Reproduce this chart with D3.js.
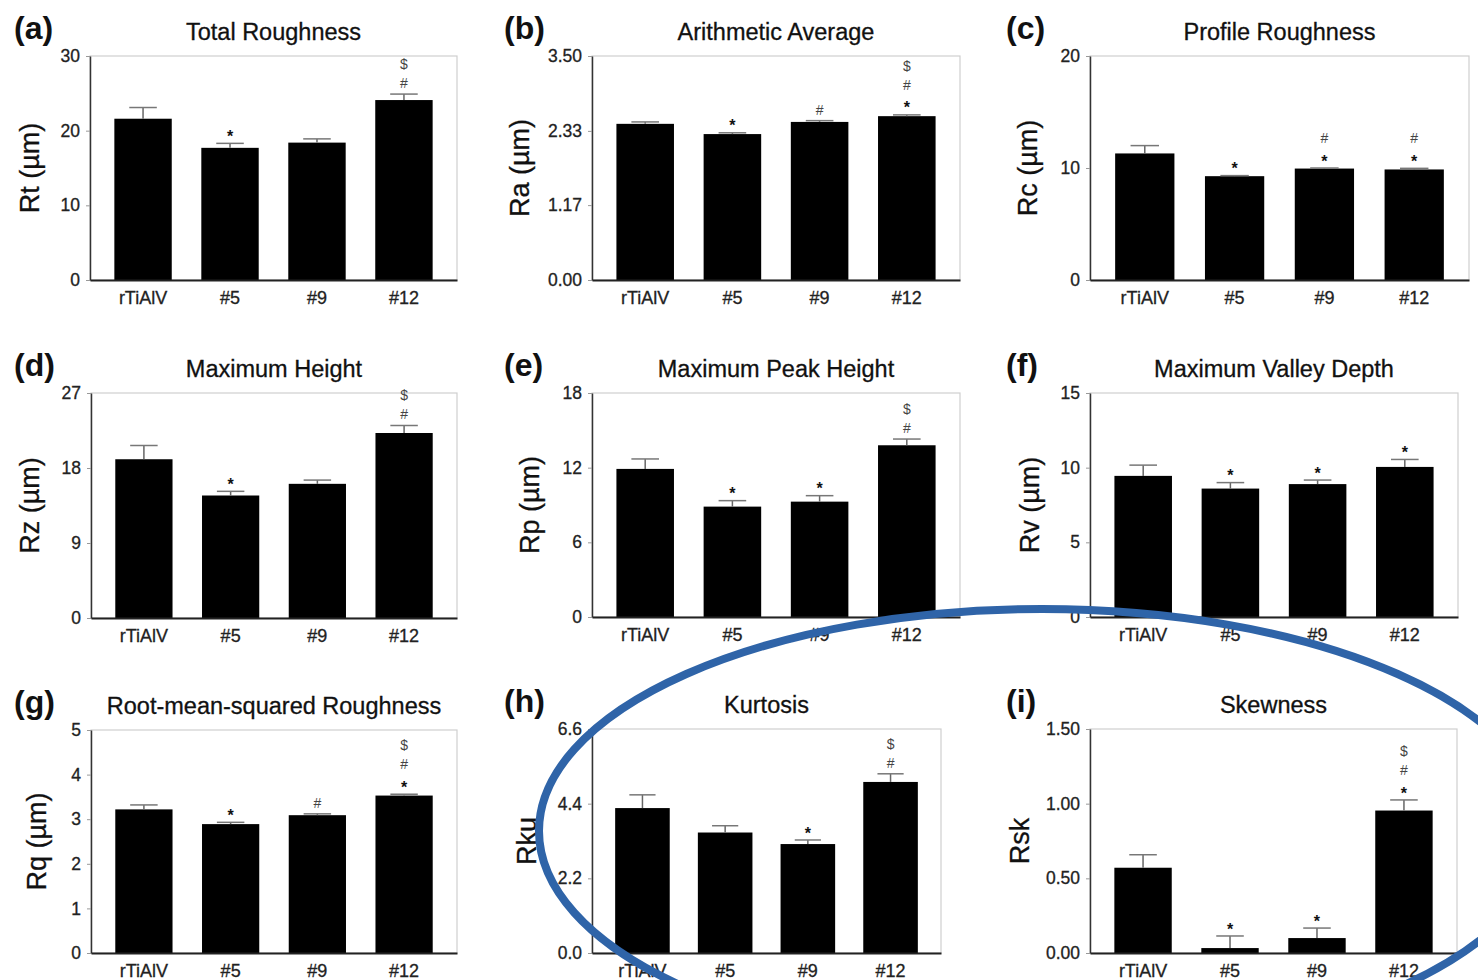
<!DOCTYPE html>
<html>
<head>
<meta charset="utf-8">
<script src="https://cdn.jsdelivr.net/npm/d3@7"></script>
<style>
  body { margin: 0; background: #fff; }
  text { font-family: "Liberation Sans", Arial, sans-serif; }
</style>
</head>
<body>
<div id="chart-area"></div>
<script>
// categorias comunes a todos los paneles
var categories = ["rTiAlV", "#5", "#9", "#12"];

// (a) Total Roughness
var rtMean = [21.6, 17.7, 18.4, 24.1];
var rtErr = [1.5, 0.6, 0.5, 0.8];
var rtSig = [[], ["*"], [], ["#", "$"]];
var rtTicks = ["0", "10", "20", "30"];

// (b) Arithmetic Average
var raMean = [2.44, 2.28, 2.47, 2.56];
var raErr = [0.03, 0.02, 0.02, 0.02];
var raSig = [[], ["*"], ["#"], ["*", "#", "$"]];
var raTicks = ["0.00", "1.17", "2.33", "3.50"];

// (c) Profile Roughness
var rcMean = [11.3, 9.27, 9.95, 9.87];
var rcErr = [0.7, 0.05, 0.05, 0.1];
var rcSig = [[], ["*"], ["*", "#"], ["*", "#"]];
var rcTicks = ["0", "10", "20"];

// (d) Maximum Height
var rzMean = [19.05, 14.7, 16.1, 22.2];
var rzErr = [1.65, 0.5, 0.45, 0.9];
var rzSig = [[], ["*"], [], ["#", "$"]];
var rzTicks = ["0", "9", "18", "27"];

// (e) Maximum Peak Height
var rpMean = [11.9, 8.87, 9.27, 13.8];
var rpErr = [0.8, 0.48, 0.48, 0.5];
var rpSig = [[], ["*"], ["*"], ["#", "$"]];
var rpTicks = ["0", "6", "12", "18"];

// (f) Maximum Valley Depth
var rvMean = [9.45, 8.6, 8.9, 10.05];
var rvErr = [0.72, 0.4, 0.27, 0.5];
var rvSig = [[], ["*"], ["*"], ["*"]];
var rvTicks = ["0", "5", "10", "15"];

// (g) Root-mean-squared Roughness
var rqMean = [3.22, 2.89, 3.09, 3.53];
var rqErr = [0.1, 0.04, 0.03, 0.03];
var rqSig = [[], ["*"], ["#"], ["*", "#", "$"]];
var rqTicks = ["0", "1", "2", "3", "4", "5"];

// (h) Kurtosis
var rkuMean = [4.27, 3.55, 3.21, 5.04];
var rkuErr = [0.39, 0.2, 0.12, 0.24];
var rkuSig = [[], [], ["*"], ["#", "$"]];
var rkuTicks = ["0.0", "2.2", "4.4", "6.6"];

// (i) Skewness
var rskMean = [0.571, 0.033, 0.10, 0.954];
var rskErr = [0.087, 0.081, 0.067, 0.071];
var rskSig = [[], ["*"], ["*"], ["*", "#", "$"]];
var rskTicks = ["0.00", "0.50", "1.00", "1.50"];

var svg = d3.select("#chart-area").append("svg")
    .attr("width", 1478)
    .attr("height", 980)
    .style("background-color", "#fff");

// dibuja un panel de barras con barras de error y marcas de significancia
function drawPanel(p, means, errs, sigs, ticks) {
    var g = svg.append("g");
    var yMax = +ticks[ticks.length - 1];

    var x = d3.scaleBand()
        .domain(categories)
        .range([p.x0, p.x1])
        .paddingInner(0.34)
        .paddingOuter(0.28);

    var y = d3.scaleLinear()
        .domain([0, yMax])
        .range([p.bottom, p.top]);

    // marco gris claro
    g.append("rect")
        .attr("x", p.x0)
        .attr("y", p.top)
        .attr("width", p.x1 - p.x0)
        .attr("height", p.bottom - p.top)
        .attr("fill", "none")
        .attr("stroke", "#cfcfcf")
        .attr("stroke-width", 1.2);

    // barras
    g.selectAll(".bar")
        .data(means)
        .enter().append("rect")
        .attr("x", function(d, i) { return x(categories[i]); })
        .attr("y", function(d) { return y(d); })
        .attr("width", x.bandwidth())
        .attr("height", function(d) { return y(0) - y(d); })
        .attr("fill", "#000");

    // barras de error (solo la mitad superior)
    means.forEach(function(m, i) {
        var cx = x(categories[i]) + x.bandwidth() / 2;
        var top = y(m + errs[i]);
        var capW = x.bandwidth() * 0.24;
        g.append("line")
            .attr("x1", cx).attr("x2", cx)
            .attr("y1", y(m)).attr("y2", top)
            .attr("stroke", "#666")
            .attr("stroke-width", 1.5);
        g.append("line")
            .attr("x1", cx - capW).attr("x2", cx + capW)
            .attr("y1", top).attr("y2", top)
            .attr("stroke", "#777")
            .attr("stroke-width", 1.5);

        // simbolos apilados encima
        sigs[i].forEach(function(s, k) {
            var cy = top - 11 - k * 19;
            var fs = s === "*" ? 16 : 14;
            var off = s === "*" ? 0.6 * fs : 0.35 * fs;
            g.append("text")
                .attr("x", cx)
                .attr("y", cy + off)
                .attr("text-anchor", "middle")
                .attr("font-size", fs)
                .attr("font-weight", s === "*" ? "bold" : "normal")
                .attr("fill", s === "*" ? "#111" : "#444")
                .text(s);
        });
    });

    // eje Y
    var yAxis = g.append("g")
        .attr("transform", "translate(" + p.x0 + ",0)")
        .call(d3.axisLeft(y)
            .tickValues(ticks.map(Number))
            .tickFormat(function(d, i) { return ticks[i]; })
            .tickSize(4)
            .tickSizeOuter(0)
            .tickPadding(6));
    yAxis.select(".domain").attr("stroke", "#333").attr("stroke-width", 1.5);
    yAxis.selectAll(".tick line").attr("stroke", "#999");
    yAxis.selectAll("text")
        .attr("font-size", 17.5)
        .attr("fill", "#222")
        .attr("stroke", "#222")
        .attr("stroke-width", 0.3)
        .style("font-family", "'Liberation Sans', Arial, sans-serif");

    // eje X
    var xAxis = g.append("g")
        .attr("transform", "translate(0," + p.bottom + ")")
        .call(d3.axisBottom(x).tickSize(0).tickPadding(11));
    xAxis.select(".domain").attr("stroke", "#222").attr("stroke-width", 2);
    xAxis.selectAll("text")
        .attr("font-size", 18)
        .attr("fill", "#222")
        .attr("stroke", "#222")
        .attr("stroke-width", 0.3)
        .style("font-family", "'Liberation Sans', Arial, sans-serif");

    // titulo del panel
    g.append("text")
        .attr("x", (p.x0 + p.x1) / 2)
        .attr("y", p.top - 24 + 8)
        .attr("text-anchor", "middle")
        .attr("font-size", 23.5)
        .attr("fill", "#111")
        .attr("stroke", "#111")
        .attr("stroke-width", 0.3)
        .text(p.title);

    // letra del panel
    g.append("text")
        .attr("x", p.lx)
        .attr("y", p.top - 28 + 11)
        .attr("font-size", 32)
        .attr("font-weight", "bold")
        .attr("fill", "#111")
        .text(p.letter);

    // etiqueta del eje Y
    var ly = (p.top + p.bottom) / 2;
    var lxx = p.x0 - p.yoff;
    g.append("text")
        .attr("transform", "translate(" + lxx + "," + ly + ") rotate(-90)")
        .attr("text-anchor", "middle")
        .attr("dy", "0.35em")
        .attr("font-size", 27)
        .attr("fill", "#111")
        .attr("stroke", "#111")
        .attr("stroke-width", 0.3)
        .text(p.ylabel);
}

drawPanel({ letter: "(a)", title: "Total Roughness", ylabel: "Rt (\u00b5m)", x0: 90, x1: 457, top: 56, bottom: 280, lx: 14, yoff: 60 },
    rtMean, rtErr, rtSig, rtTicks);
drawPanel({ letter: "(b)", title: "Arithmetic Average", ylabel: "Ra (\u00b5m)", x0: 592, x1: 960, top: 56, bottom: 280, lx: 504, yoff: 72 },
    raMean, raErr, raSig, raTicks);
drawPanel({ letter: "(c)", title: "Profile Roughness", ylabel: "Rc (\u00b5m)", x0: 1090, x1: 1469, top: 56, bottom: 280, lx: 1006, yoff: 62 },
    rcMean, rcErr, rcSig, rcTicks);
drawPanel({ letter: "(d)", title: "Maximum Height", ylabel: "Rz (\u00b5m)", x0: 91, x1: 457, top: 393, bottom: 618, lx: 14, yoff: 61 },
    rzMean, rzErr, rzSig, rzTicks);
drawPanel({ letter: "(e)", title: "Maximum Peak Height", ylabel: "Rp (\u00b5m)", x0: 592, x1: 960, top: 393, bottom: 617, lx: 504, yoff: 62 },
    rpMean, rpErr, rpSig, rpTicks);
drawPanel({ letter: "(f)", title: "Maximum Valley Depth", ylabel: "Rv (\u00b5m)", x0: 1090, x1: 1458, top: 393, bottom: 617, lx: 1006, yoff: 60 },
    rvMean, rvErr, rvSig, rvTicks);
drawPanel({ letter: "(g)", title: "Root-mean-squared Roughness", ylabel: "Rq (\u00b5m)", x0: 91, x1: 457, top: 730, bottom: 953, lx: 14, yoff: 54 },
    rqMean, rqErr, rqSig, rqTicks);
drawPanel({ letter: "(h)", title: "Kurtosis", ylabel: "Rku", x0: 592, x1: 941, top: 729, bottom: 953, lx: 504, yoff: 65 },
    rkuMean, rkuErr, rkuSig, rkuTicks);
drawPanel({ letter: "(i)", title: "Skewness", ylabel: "Rsk", x0: 1090, x1: 1457, top: 729, bottom: 953, lx: 1006, yoff: 70 },
    rskMean, rskErr, rskSig, rskTicks);

// elipse azul de resaltado encima de (h) e (i)
svg.append("ellipse")
    .attr("cx", 1042)
    .attr("cy", 831)
    .attr("rx", 503)
    .attr("ry", 222)
    .attr("fill", "none")
    .attr("stroke", "#2f64a8")
    .attr("stroke-width", 8);
</script>
</body>
</html>
